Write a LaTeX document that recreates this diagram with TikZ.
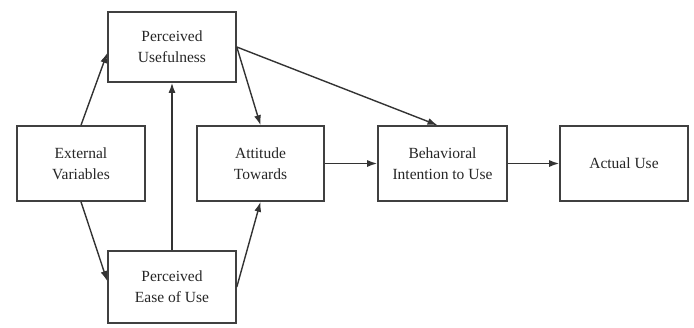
\documentclass[tikz,border=0pt]{standalone}
\usepackage{fontspec}
\setmainfont{Liberation Serif}
\usetikzlibrary{arrows.meta}
\begin{document}
\begin{tikzpicture}[x=1pt, y=-1pt,
        box/.style={draw=black!75, line width=1.6pt, align=center, text=black!85,
            font=\fontsize{15.5}{21}\selectfont, inner sep=0pt},
        link/.style={draw=black!80, line width=1.4pt, -{Latex[length=10pt,width=7pt]}}]
            \useasboundingbox (0, 0) rectangle (694, 327);

            \node[box, minimum width=128, minimum height=70] (PU) at (172, 47) {Perceived\\Usefulness};
            \node[box, minimum width=128, minimum height=75] (EV) at (81, 163.5) {External\\Variables};
            \node[box, minimum width=127, minimum height=75] (AT) at (260.5, 163.5) {Attitude\\Towards};
            \node[box, minimum width=128, minimum height=72] (PE) at (172, 287) {Perceived\\Ease of Use};
            \node[box, minimum width=129, minimum height=75] (BI) at (442.5, 163.5) {Behavioral\\Intention to Use};
            \node[box, minimum width=128, minimum height=75] (AU) at (624, 163.5) {Actual Use};

            \draw[link] (EV.north) -- ([yshift=-6pt]PU.west);
            \draw[link] (EV.south) -- ([yshift=6pt]PE.west);

            \draw[link] (PE.north) -- (PU.south);

            \draw[link] (PU.east) -- (AT.north);
            \draw[link] (PE.east) -- (AT.south);
            \draw[link] (PU.east) -- ([xshift=-5pt]BI.north);

            \draw[link] (AT.east) -- (BI.west);
            \draw[link] (BI.east) -- (AU.west);
        \end{tikzpicture}
\end{document}
